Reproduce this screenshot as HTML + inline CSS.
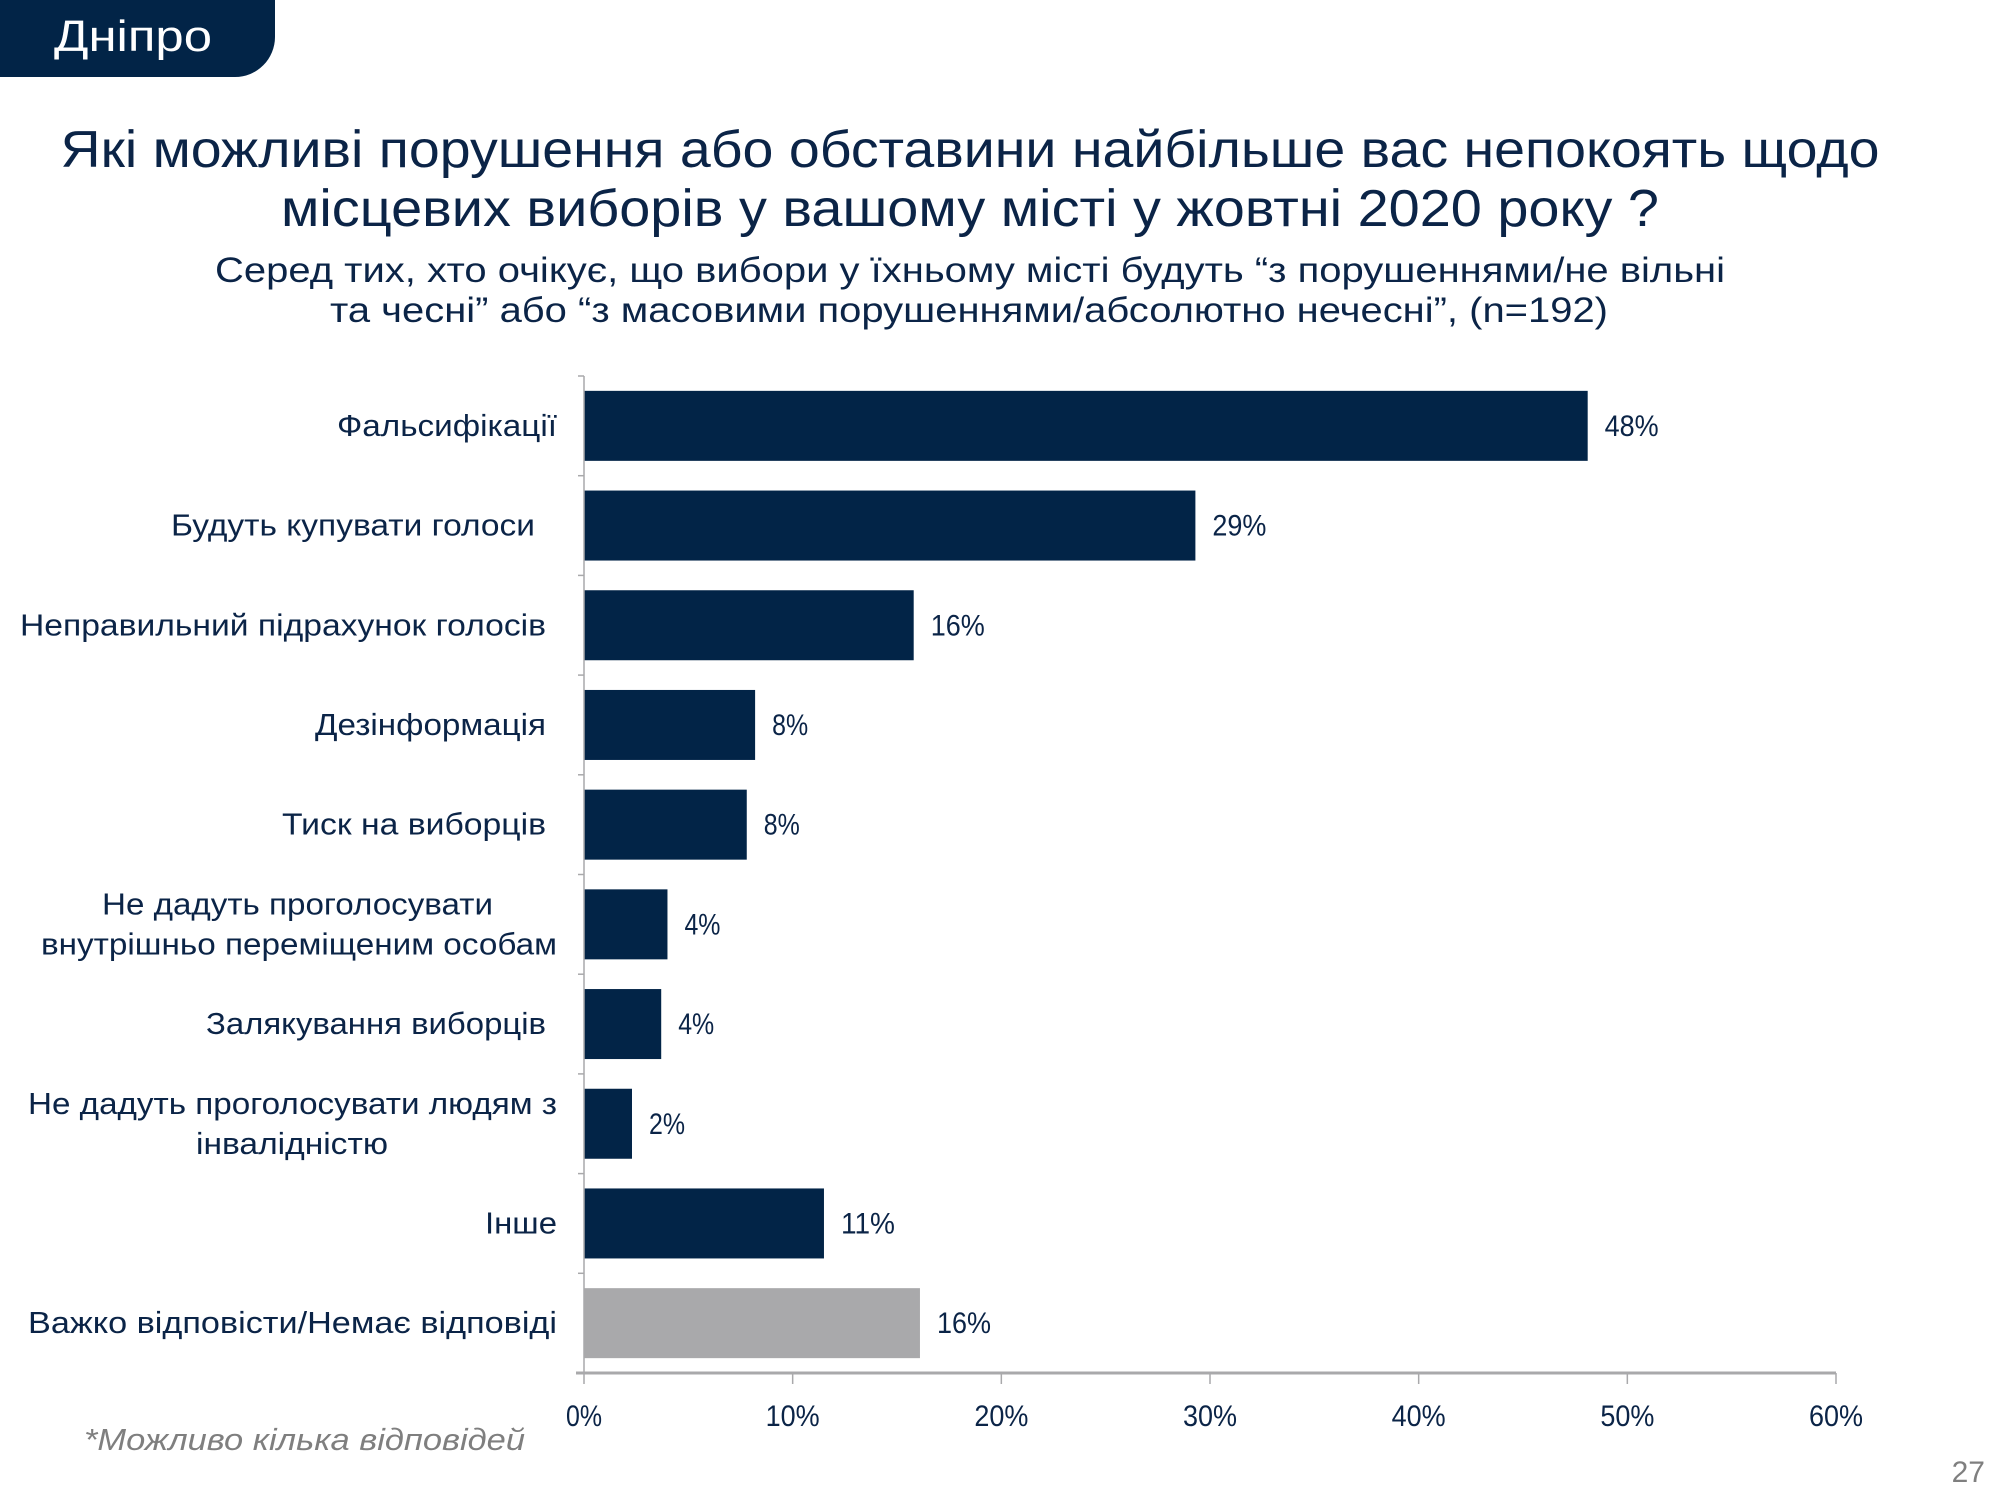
<!DOCTYPE html>
<html><head><meta charset="utf-8"><style>
html,body{margin:0;padding:0;background:#fff;}
svg{display:block;font-family:"Liberation Sans","DejaVu Sans",sans-serif;}
</style></head><body>
<svg id="chart" width="2000" height="1500" viewBox="0 0 2000 1500" xmlns="http://www.w3.org/2000/svg">
<path d="M0 0H275V37A40 40 0 0 1 235 77H0Z" fill="#022447"/>
<text x="54" y="51" font-size="44" fill="#fff" textLength="158" lengthAdjust="spacingAndGlyphs">Дніпро</text>
<text x="970" y="167" font-size="52" fill="#0b2447" text-anchor="middle" textLength="1819" lengthAdjust="spacingAndGlyphs">Які можливі порушення або обставини найбільше вас непокоять щодо</text>
<text x="970" y="226" font-size="52" fill="#0b2447" text-anchor="middle" textLength="1378" lengthAdjust="spacingAndGlyphs">місцевих виборів у вашому місті у жовтні 2020 року ?</text>
<text x="970" y="282" font-size="35" fill="#0b2447" text-anchor="middle" textLength="1510" lengthAdjust="spacingAndGlyphs">Серед тих, хто очікує, що вибори у їхньому місті будуть “з порушеннями/не вільні</text>
<text x="969" y="322" font-size="35" fill="#0b2447" text-anchor="middle" textLength="1278" lengthAdjust="spacingAndGlyphs">та чесні” або “з масовими порушеннями/абсолютно нечесні”, (n=192)</text>
<g id="plot"></g>
<text x="84" y="1450" font-size="31" font-style="italic" fill="#7f7f7f" textLength="441" lengthAdjust="spacingAndGlyphs">*Можливо кілька відповідей</text>
<text x="1985" y="1482" font-size="30" fill="#7f7f7f" text-anchor="end">27</text>
</svg>
<script>
const categories = [["Фальсифікації"],["Будуть купувати голоси"],["Неправильний підрахунок голосів"],["Дезінформація"],["Тиск на виборців"],["Не дадуть проголосувати","внутрішньо переміщеним особам"],["Залякування виборців"],["Не дадуть проголосувати людям з","інвалідністю"],["Інше"],["Важко відповісти/Немає відповіді"]];
const values = [48.1, 29.3, 15.8, 8.2, 7.8, 4.0, 3.7, 2.3, 11.5, 16.1];
const valueLabels = ["48%","29%","16%","8%","8%","4%","4%","2%","11%","16%"];
const tickValues = [0,10,20,30,40,50,60];
const tickLabels = ["0%","10%","20%","30%","40%","50%","60%"];

// layout only: [start, end] x per label line
const labelSpans = [[[337,557]],[[171,535]],[[20,546]],[[315,546]],[[282,546]],[[102,493],[41,557]],[[206,546]],[[28,557],[196,388]],[[485,557]],[[28,557]]];

const NS = "http://www.w3.org/2000/svg";
const g = document.getElementById("plot");
const x0 = 584, x1 = 1836, yTop = 376, yBot = 1373;
const xs = v => x0 + (v - 0) / 60 * (x1 - x0);
const band = (yBot - yTop) / categories.length;
const ys = i => yTop + i * band;
function mk(tag, attrs){const e=document.createElementNS(NS,tag);for(const k in attrs)e.setAttribute(k,attrs[k]);g.appendChild(e);return e;}

categories.forEach((lines, i) => {
  const yc = ys(i) + band/2;
  const bar = mk("rect",{x:x0,y:yc-35,width:xs(values[i])-x0,height:70,fill:i===categories.length-1?"#a9a9ab":"#022447"});
  
  
  const vl = mk("text",{x:xs(values[i])+17,y:yc+10,"font-size":30,fill:"#0b2447",textLength:String(valueLabels[i].length*18),lengthAdjust:"spacingAndGlyphs"});
  vl.textContent = valueLabels[i];
  
  
  const n = lines.length;
  lines.forEach((ln, j) => {
    const sp = labelSpans[i][j];
    const t = mk("text",{x:sp[0],y:yc+10+(j-(n-1)/2)*40,"font-size":31,fill:"#0b2447",textLength:sp[1]-sp[0],lengthAdjust:"spacingAndGlyphs"});
    t.textContent = ln;
    
    
  });
  const tk = mk("line",{x1:578,x2:x0,y1:ys(i),y2:ys(i),stroke:"#a9a9ab","stroke-width":1.5});
  
  
});
const ya = mk("line",{x1:x0,x2:x0,y1:yTop,y2:yBot,stroke:"#a9a9ab","stroke-width":1.5});


const xa = mk("line",{x1:x0-8,x2:x1,y1:yBot,y2:yBot,stroke:"#a9a9ab","stroke-width":3});


tickValues.forEach((v, i) => {
  const tk = mk("line",{x1:xs(v),x2:xs(v),y1:yBot,y2:yBot+11,stroke:"#a9a9ab","stroke-width":1.5});
  
  
  const t = mk("text",{x:xs(v),y:1426,"font-size":30,fill:"#0b2447","text-anchor":"middle",textLength:String(tickLabels[i].length*18),lengthAdjust:"spacingAndGlyphs"});
  t.textContent = tickLabels[i];
  
  
});
</script>
</body></html>
